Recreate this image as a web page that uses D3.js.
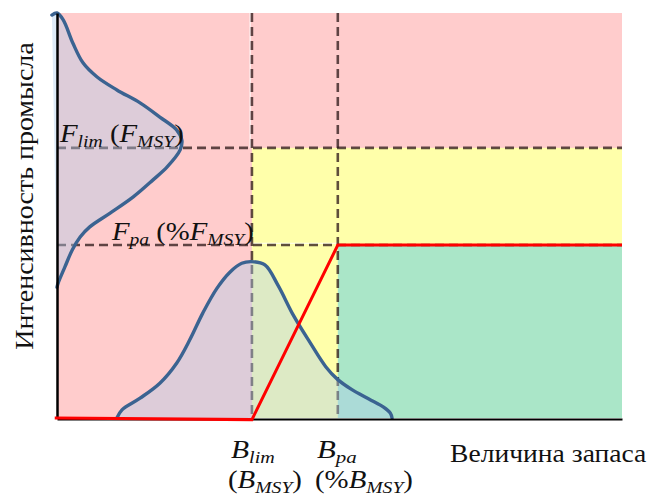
<!DOCTYPE html>
<html>
<head>
<meta charset="utf-8">
<script src="https://cdn.jsdelivr.net/npm/d3@7"></script>
<style>
  body { margin: 0; background: #fff; }
</style>
</head>
<body>
<svg id="chart" width="650" height="497"></svg>
<script>
// Reference points (stock size and fishing mortality, in % of axis range)
const bLim = 34.5;
const bPa = 49.7;
const fLim = 66.7;
const fPa = 42.7;

// Distribution of stock size estimates: [stock, density]
const stockDist = [
  [10.6, 0], [11.5, 2.0], [14.7, 4.9], [18.2, 8.6], [21.2, 13.6], [23.5, 19.3],
  [25.8, 25.9], [28.3, 32.0], [30.6, 36.0], [32.7, 38.2], [34.5, 38.6],
  [36.8, 37.8], [39.1, 32.8], [41.9, 25.2], [44.8, 18.6], [47.6, 12.6],
  [49.6, 9.6], [52.2, 7.0], [55.2, 4.7], [57.8, 2.7], [59.0, 1.2], [59.3, 0]
];

// Distribution of fishing mortality estimates: [density, mortality]
const fishingDist = [
  [-0.9, 99.5], [0, 100], [1.1, 98.3], [2.8, 92.6], [4.6, 87.7], [7.1, 84.2],
  [10.6, 81.0], [14.7, 77.8], [18.2, 74.3], [21.2, 71.1], [22.1, 68.6],
  [21.8, 66.2], [19.5, 62.0], [17.0, 58.8], [13.5, 54.6], [9.4, 50.6],
  [5.8, 47.2], [4.1, 44.7], [2.7, 41.5], [1.4, 37.3], [0.2, 33.3], [0, 32.3]
];

// Harvest control rule: [stock, fishing mortality]
const hcrRule = [[-0.4, 0], [bLim, -0.4], [bPa, fPa], [100, fPa]];

// Pick the first installed serif face by comparing glyph widths on a canvas
function pickSerif(candidates) {
  const ctx = document.createElement("canvas").getContext("2d");
  const sample = "Величина запаса BFlimMSY %() wmWi";
  const width = f => { ctx.font = "40px " + f; return ctx.measureText(sample).width; };
  for (const c of candidates) {
    const fam = `"${c}"`;
    if (width(fam + ", monospace") !== width("monospace") ||
        width(fam + ", sans-serif") !== width("sans-serif")) return fam + ", serif";
  }
  return "serif";
}
const serifFamily = pickSerif([
  "Liberation Serif", "Times New Roman", "Tinos", "DejaVu Serif", "Noto Serif",
  "FreeSerif", "Nimbus Roman", "Noto Serif CJK SC"
]);

const svg = d3.select("#chart").attr("font-family", serifFamily);
const x = d3.scaleLinear().domain([0, 100]).range([57, 622]);
const y = d3.scaleLinear().domain([0, 100]).range([418, 13]);

// Zones
const zones = [
  { x0: 0, x1: 100, y0: 0, y1: 100, color: "#ffcccc" },
  { x0: bLim, x1: 100, y0: 0, y1: fLim, color: "#ffffaa" },
  { x0: bPa, x1: 100, y0: 0, y1: fPa, color: "#aae6c8" }
];
svg.selectAll("rect.zone").data(zones).join("rect")
  .attr("class", "zone")
  .attr("x", d => x(d.x0)).attr("width", d => x(d.x1) - x(d.x0))
  .attr("y", d => y(d.y1)).attr("height", d => y(d.y0) - y(d.y1))
  .attr("fill", d => d.color);

// Thin white seams between zone panels
const seams = svg.append("g").attr("stroke", "#fff").attr("stroke-width", 1.2).attr("opacity", 0.9);
seams.append("line").attr("x1", x(bLim) - 1.8).attr("x2", x(bLim) - 1.8)
  .attr("y1", y(100)).attr("y2", y(fLim));
seams.append("line").attr("x1", x(bLim)).attr("x2", x(bPa))
  .attr("y1", y(fPa) - 1.8).attr("y2", y(fPa) - 1.8);

// Reference point guides
const dashColor = "rgba(50,28,28,0.78)";
const guides = svg.append("g")
  .attr("stroke", dashColor).attr("stroke-width", 2.6)
  .attr("stroke-dasharray", "9,5").attr("fill", "none");
[bLim, bPa].forEach(b => guides.append("line")
  .attr("x1", x(b)).attr("x2", x(b)).attr("y1", y(100)).attr("y2", y(0)));
[fLim, fPa].forEach(f => guides.append("line")
  .attr("x1", x(0)).attr("x2", x(100)).attr("y1", y(f)).attr("y2", y(f)));

// Distributions
const line = d3.line().x(d => x(d[0])).y(d => y(d[1])).curve(d3.curveCatmullRom.alpha(0.5));
const distFill = "rgba(175,205,235,0.42)";
const distStroke = "#3b6391";
[stockDist, fishingDist].forEach(pts => {
  svg.append("path").attr("d", line(pts) + "Z").attr("fill", distFill).attr("stroke", "none");
});
[stockDist, fishingDist].forEach(pts => {
  svg.append("path").attr("d", line(pts)).attr("fill", "none")
    .attr("stroke", distStroke).attr("stroke-width", 3.4)
    .attr("stroke-linecap", "round").attr("stroke-linejoin", "round");
});

// Axes (lines only)
svg.append("g").attr("transform", `translate(${x(0)},0)`)
  .call(d3.axisLeft(y).tickValues([]).tickSizeOuter(0))
  .call(g => g.select(".domain").attr("stroke", "#000").attr("stroke-width", 2.5));
svg.append("g").attr("transform", `translate(0,${y(0) + 1})`)
  .call(d3.axisBottom(x).tickValues([]).tickSizeOuter(0))
  .call(g => g.select(".domain").attr("stroke", "#000").attr("stroke-width", 2));

// Harvest control rule
svg.append("path")
  .attr("d", d3.line().x(d => x(d[0])).y(d => y(d[1]))(hcrRule))
  .attr("fill", "none").attr("stroke", "#ff0000").attr("stroke-width", 3)
  .attr("stroke-linejoin", "miter");

// Labels: rich text fitted horizontally to a given width
function label(px, py, size, fitW, parts, rotate = 0, anchor = "start") {
  const g = svg.append("g");
  const t = g.append("text").attr("x", 0).attr("y", 0)
    .attr("font-size", size).attr("fill", "#111").attr("text-anchor", anchor);
  parts.forEach(p => {
    const s = t.append("tspan").text(p.t);
    if (p.i) s.attr("font-style", "italic");
    if (p.sub) s.attr("font-size", size * 0.68).attr("dy", size * 0.2);
    if (p.back) s.attr("dy", -size * 0.2);
  });
  const w = t.node().getBBox().width;
  const sx = fitW ? fitW / w : 1;
  g.attr("transform", `translate(${px},${py}) rotate(${rotate}) scale(${sx},1)`);
  return g;
}
label(60, 142, 25, 125, [
  { t: "F", i: 1 }, { t: "lim", i: 1, sub: 1 },
  { t: " (", back: 1 }, { t: "F", i: 1 }, { t: "MSY", i: 1, sub: 1 }, { t: ")", back: 1 }
]);
label(112, 240, 25, 143, [
  { t: "F", i: 1 }, { t: "pa", i: 1, sub: 1 },
  { t: " (%", back: 1 }, { t: "F", i: 1 }, { t: "MSY", i: 1, sub: 1 }, { t: ")", back: 1 }
]);
label(231, 458, 26, 44, [{ t: "B", i: 1 }, { t: "lim", i: 1, sub: 1 }]);
label(228, 488, 26, 74, [{ t: "(" }, { t: "B", i: 1 }, { t: "MSY", i: 1, sub: 1 }, { t: ")", back: 1 }]);
label(317, 458, 26, 40, [{ t: "B", i: 1 }, { t: "pa", i: 1, sub: 1 }]);
label(315, 488, 26, 98, [{ t: "(%" }, { t: "B", i: 1 }, { t: "MSY", i: 1, sub: 1 }, { t: ")", back: 1 }]);

label(450, 462, 26, 197, [{ t: "Величина запаса" }]);
label(33, 196, 26, 308, [{ t: "Интенсивность промысла" }], -90, "middle");
</script>
</body>
</html>
